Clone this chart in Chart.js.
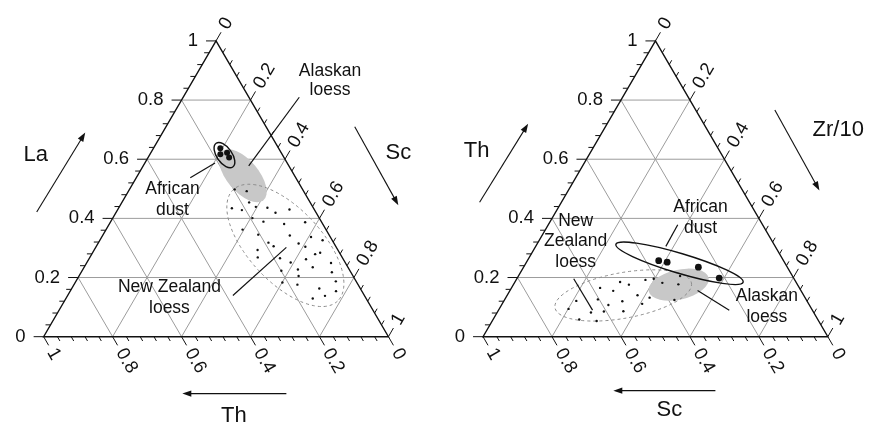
<!DOCTYPE html>
<html><head><meta charset="utf-8">
<script src="https://cdn.jsdelivr.net/npm/chart.js@4.4.0/dist/chart.umd.min.js"></script>
<style>html,body{margin:0;padding:0;background:#fff;}#wrap{width:869px;height:429px;}</style>
</head><body><div id="wrap"><canvas id="c" width="869" height="429"></canvas></div>
<script>
// ---------- DATA ----------
// Left diagram: La (top) – Sc (right) – Th (left vertex)
const leftAfricanDustLa = [0.637, 0.622, 0.617, 0.606];
const leftAfricanDustSc = [0.194, 0.221, 0.204, 0.235];
const leftAfricanDustTh = [0.169, 0.157, 0.179, 0.159];

const leftNZLoessLa = [0.498,0.492,0.454,0.434,0.428,0.439,0.436,0.419,0.430,0.401,0.389,0.381,0.387,0.362,0.345,0.342,0.337,0.318,0.315,0.306,0.304,0.326,0.293,0.268,0.265,0.279,0.284,0.251,0.262,0.249,0.235,0.223,0.227,0.218,0.205,0.183,0.187,0.176,0.163,0.154,0.129,0.138];
const leftNZLoessSc = [0.305,0.343,0.369,0.329,0.361,0.396,0.431,0.463,0.498,0.405,0.443,0.507,0.565,0.396,0.450,0.543,0.607,0.493,0.582,0.514,0.607,0.646,0.474,0.487,0.553,0.648,0.660,0.591,0.630,0.709,0.663,0.578,0.624,0.727,0.637,0.601,0.754,0.648,0.718,0.771,0.716,0.747];
const leftNZLoessTh = [0.197,0.165,0.177,0.237,0.211,0.165,0.133,0.118,0.072,0.194,0.168,0.112,0.048,0.242,0.205,0.115,0.056,0.189,0.103,0.180,0.089,0.028,0.233,0.245,0.182,0.073,0.056,0.158,0.108,0.042,0.102,0.199,0.149,0.055,0.158,0.216,0.059,0.176,0.119,0.075,0.155,0.115];

// Right diagram: Th (top) – Zr/10 (right) – Sc (left vertex)
const rightAfricanDustTh = [0.257, 0.252, 0.235, 0.198];
const rightAfricanDustZr = [0.381, 0.408, 0.507, 0.586];
const rightAfricanDustSc = [0.362, 0.340, 0.258, 0.216];

const rightNZLoessTh = [0.094,0.121,0.058,0.082,0.053,0.165,0.126,0.085,0.107,0.155,0.185,0.120,0.086,0.176,0.140,0.192,0.111,0.132,0.196,0.182,0.124,0.177,0.205];
const rightNZLoessZr = [0.201,0.210,0.250,0.272,0.303,0.257,0.270,0.308,0.310,0.300,0.305,0.344,0.364,0.335,0.378,0.375,0.406,0.417,0.397,0.429,0.493,0.478,0.469];
const rightNZLoessSc = [0.705,0.669,0.692,0.646,0.644,0.578,0.604,0.607,0.583,0.545,0.510,0.536,0.550,0.489,0.482,0.433,0.483,0.451,0.407,0.389,0.383,0.345,0.326];

// Axis ticks
const tickValues = [0, 0.2, 0.4, 0.6, 0.8, 1];
const tickLabels = ['0', '0.2', '0.4', '0.6', '0.8', '1'];
const gridValues = [0.2, 0.4, 0.6, 0.8];

// ---------- LAYOUT / STYLE CONFIG ----------
const SQ = Math.sqrt(3) / 2;
const OFF_R = 1.2744;
function tern(top, right, off) { return { x: off + right + top / 2, y: top * SQ }; }

const diagrams = [{ off: 0 }, { off: OFF_R }];

// fields: centre in ternary (top,right), semi-axes in side units, angle deg (screen, clockwise)
const fields = [
  { off: 0, top: 0.5442, right: 0.3055, a: 0.093, b: 0.046, ang: 50, kind: 'fill' },
  { off: 0, top: 0.3086, right: 0.5468, a: 0.2213, b: 0.1063, ang: 47, kind: 'dash' },
  { off: 0, top: 0.6138, right: 0.2175, a: 0.042, b: 0.022, ang: 55, kind: 'line' },
  { off: OFF_R, top: 0.1759, right: 0.4796, a: 0.0891, b: 0.0431, ang: -13, kind: 'fill' },
  { off: OFF_R, top: 0.1394, right: 0.3369, a: 0.2011, b: 0.0661, ang: -10.3, kind: 'dash' },
  { off: OFF_R, top: 0.2482, right: 0.4457, a: 0.1925, b: 0.0287, ang: 16.6, kind: 'line' }
];

const leaders = [
  [0.7414, 0.7011, 0.5948, 0.5000],
  [0.4971, 0.5086, 0.4253, 0.4655],
  [0.5489, 0.1207, 0.7040, 0.2615],
  [1.8391, 0.3276, 1.8046, 0.2644],
  [1.5374, 0.1695, 1.5920, 0.0776],
  [1.8966, 0.1351, 1.9885, 0.0776]
];
const arrows = [
  [-0.0201, 0.3649, 0.1207, 0.5977],
  [0.9023, 0.6149, 1.0287, 0.3851],
  [0.7040, -0.1667, 0.4023, -0.1667],
  [1.2644, 0.3937, 1.4052, 0.6236],
  [2.1207, 0.6638, 2.2500, 0.4282],
  [1.9483, -0.1580, 1.6523, -0.1580]
];
const notes = [
  ['Alaskan', 0.8305, 0.7787], ['loess', 0.8305, 0.7213],
  ['African', 0.3736, 0.4310], ['dust', 0.3736, 0.3707],
  ['New Zealand', 0.3649, 0.1437], ['loess', 0.3649, 0.0833],
  ['African', 1.9052, 0.3793], ['dust', 1.9052, 0.3190],
  ['New', 1.5431, 0.3391], ['Zealand', 1.5431, 0.2787], ['loess', 1.5431, 0.2184],
  ['Alaskan', 2.0977, 0.1178], ['loess', 2.0977, 0.0575]
];
const titles = [
  ['La', -0.0230, 0.5316], ['Sc', 1.0287, 0.5374], ['Th', 0.5517, -0.2328],
  ['Th', 1.2557, 0.5431], ['Zr/10', 2.3046, 0.6063], ['Sc', 1.8147, -0.2155]
];

const FONT = '"Liberation Sans", Arial, Helvetica, sans-serif';

const ternaryPlugin = {
  id: 'ternary',
  beforeDatasetsDraw(chart) {
    const ctx = chart.ctx, xs = chart.scales.x, ys = chart.scales.y;
    const px = p => [xs.getPixelForValue(p.x), ys.getPixelForValue(p.y)];
    const unit = xs.getPixelForValue(1) - xs.getPixelForValue(0);
    const seg = (p, q) => { const a = px(p), b = px(q); ctx.beginPath(); ctx.moveTo(a[0], a[1]); ctx.lineTo(b[0], b[1]); ctx.stroke(); };
    ctx.save();
    // grid
    diagrams.forEach(d => {
      ctx.strokeStyle = '#9c9c9c'; ctx.lineWidth = 1;
      gridValues.forEach(v => {
        seg(tern(v, 0, d.off), tern(v, 1 - v, d.off));
        seg(tern(0, v, d.off), tern(1 - v, v, d.off));
        seg(tern(0, 1 - v, d.off), tern(1 - v, 0, d.off));
      });
    });
    // fields (filled, dashed)
    fields.forEach(f => {
      if (f.kind === 'line') return;
      const c = px(tern(f.top, f.right, f.off));
      ctx.beginPath();
      ctx.ellipse(c[0], c[1], f.a * unit, f.b * unit, f.ang * Math.PI / 180, 0, Math.PI * 2);
      if (f.kind === 'fill') { ctx.fillStyle = '#c8c8c8'; ctx.fill(); }
      else { ctx.setLineDash([3, 3]); ctx.strokeStyle = '#8c8c8c'; ctx.lineWidth = 1; ctx.stroke(); ctx.setLineDash([]); }
    });
    // triangle edges, ticks, labels
    diagrams.forEach(d => {
      ctx.strokeStyle = '#111'; ctx.lineWidth = 1.4;
      const A = px(tern(1, 0, d.off)), B = px(tern(0, 1, d.off)), C = px(tern(0, 0, d.off));
      ctx.beginPath(); ctx.moveTo(A[0], A[1]); ctx.lineTo(B[0], B[1]); ctx.lineTo(C[0], C[1]); ctx.closePath(); ctx.stroke();
      ctx.lineWidth = 1;
      const axes = [
        { pt: v => tern(v, 0, d.off), dir: [-1, 0], rot: 0 },
        { pt: v => tern(1 - v, v, d.off), dir: [0.5, -SQ], rot: -60 },
        { pt: v => tern(0, 1 - v, d.off), dir: [0.5, SQ], rot: 60 }
      ];
      axes.forEach(ax => {
        for (let i = 0; i <= 25; i++) {
          const v = i * 0.04, major = i % 5 === 0;
          const p = px(ax.pt(v)), L = major ? 10 : 5;
          ctx.beginPath(); ctx.moveTo(p[0], p[1]); ctx.lineTo(p[0] + ax.dir[0] * L, p[1] + ax.dir[1] * L); ctx.stroke();
        }
        ctx.fillStyle = '#111'; ctx.font = '18.5px ' + FONT; ctx.textBaseline = 'middle';
        tickValues.forEach((v, k) => {
          const p = px(ax.pt(v));
          if (ax.rot === 0) {
            ctx.textAlign = 'right';
            ctx.fillText(tickLabels[k], p[0] - 18, p[1]);
          } else {
            ctx.save();
            ctx.translate(p[0] + ax.dir[0] * 15, p[1] + ax.dir[1] * 15);
            ctx.rotate(ax.rot * Math.PI / 180);
            ctx.textAlign = 'left';
            ctx.fillText(tickLabels[k], 0, 0);
            ctx.restore();
          }
        });
      });
    });
    ctx.restore();
  },
  afterDatasetsDraw(chart) {
    const ctx = chart.ctx, xs = chart.scales.x, ys = chart.scales.y;
    const X = v => xs.getPixelForValue(v), Y = v => ys.getPixelForValue(v);
    const unit = X(1) - X(0);
    ctx.save();
    fields.forEach(f => {
      if (f.kind !== 'line') return;
      const p = tern(f.top, f.right, f.off);
      ctx.beginPath();
      ctx.ellipse(X(p.x), Y(p.y), f.a * unit, f.b * unit, f.ang * Math.PI / 180, 0, Math.PI * 2);
      ctx.strokeStyle = '#111'; ctx.lineWidth = 1.4; ctx.stroke();
    });
    ctx.strokeStyle = '#111'; ctx.lineWidth = 1.2;
    leaders.forEach(l => { ctx.beginPath(); ctx.moveTo(X(l[0]), Y(l[1])); ctx.lineTo(X(l[2]), Y(l[3])); ctx.stroke(); });
    arrows.forEach(a => {
      const x1 = X(a[0]), y1 = Y(a[1]), x2 = X(a[2]), y2 = Y(a[3]);
      const ang = Math.atan2(y2 - y1, x2 - x1), hl = 9, hw = 3.2;
      ctx.lineWidth = 1.1;
      ctx.beginPath(); ctx.moveTo(x1, y1); ctx.lineTo(x2 - Math.cos(ang) * hl * 0.8, y2 - Math.sin(ang) * hl * 0.8); ctx.stroke();
      ctx.beginPath();
      ctx.moveTo(x2, y2);
      ctx.lineTo(x2 - Math.cos(ang) * hl - Math.sin(ang) * hw, y2 - Math.sin(ang) * hl + Math.cos(ang) * hw);
      ctx.lineTo(x2 - Math.cos(ang) * hl + Math.sin(ang) * hw, y2 - Math.sin(ang) * hl - Math.cos(ang) * hw);
      ctx.closePath(); ctx.fillStyle = '#111'; ctx.fill();
    });
    ctx.fillStyle = '#111'; ctx.textAlign = 'center'; ctx.textBaseline = 'middle';
    ctx.font = '17.5px ' + FONT;
    notes.forEach(n => ctx.fillText(n[0], X(n[1]), Y(n[2])));
    ctx.font = '22px ' + FONT;
    titles.forEach(t => ctx.fillText(t[0], X(t[1]), Y(t[2])));
    ctx.restore();
  }
};

function pts(top, right, off) { return top.map((t, i) => tern(t, right[i], off)); }

new Chart(document.getElementById('c'), {
  type: 'scatter',
  data: {
    datasets: [
      { label: 'New Zealand loess (La-Sc-Th)', data: pts(leftNZLoessLa, leftNZLoessSc, 0), pointRadius: 1.2, backgroundColor: '#111', borderWidth: 0 },
      { label: 'New Zealand loess (Th-Zr-Sc)', data: pts(rightNZLoessTh, rightNZLoessZr, OFF_R), pointRadius: 1.2, backgroundColor: '#111', borderWidth: 0 },
      { label: 'African dust (La-Sc-Th)', data: pts(leftAfricanDustLa, leftAfricanDustSc, 0), pointRadius: 3, backgroundColor: '#111', borderWidth: 0 },
      { label: 'African dust (Th-Zr-Sc)', data: pts(rightAfricanDustTh, rightAfricanDustZr, OFF_R), pointRadius: 3.4, backgroundColor: '#111', borderWidth: 0 }
    ]
  },
  options: {
    responsive: false,
    animation: false,
    devicePixelRatio: 1,
    events: [],
    layout: { padding: 0 },
    plugins: { legend: { display: false }, tooltip: { enabled: false } },
    scales: {
      x: { type: 'linear', display: false, min: -40 / 348, max: 829 / 348 },
      y: { type: 'linear', display: false, min: -90 / 348, max: 339 / 348 }
    }
  },
  plugins: [ternaryPlugin]
});
</script></body></html>
